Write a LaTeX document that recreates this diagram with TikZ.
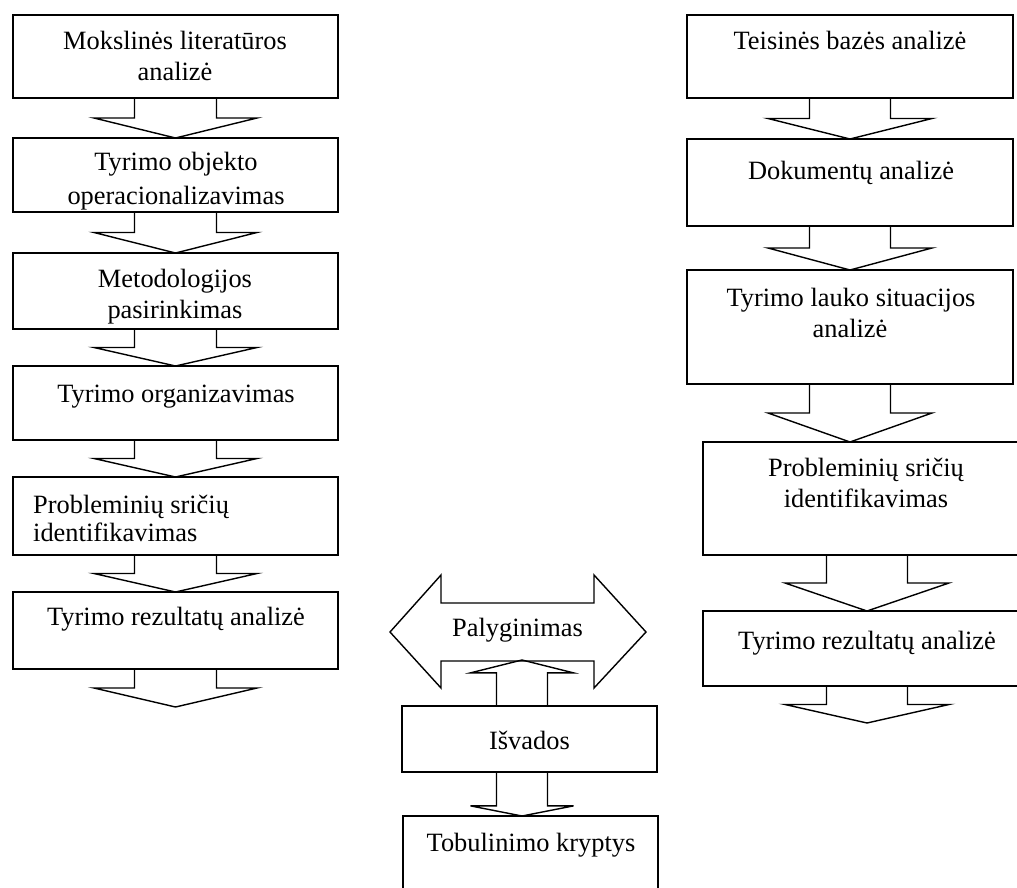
\documentclass[tikz,border=0pt]{standalone}
\usepackage{fontspec}
\setmainfont{Liberation Serif}
\usetikzlibrary{calc}

% A stage box given by its corners: name, x1, y1, x2, y2
\newcommand\stage[5]{%
  \node[stagebox, minimum width={(#4)-(#2)}, minimum height={(#5)-(#3)}]
    (#1) at ({((#2)+(#4))/2},{((#3)+(#5))/2}) {};}

% A block arrow: start point, tip point, stem half-width, head half-width,
% share of the length taken by the stem
\newcommand\flowarrow[5]{%
  \draw[conn] let \p1=(#1), \p2=(#2) in
    ({\x1-#3},\y1) -- ({\x1-#3},{\y1+(\y2-\y1)*#5}) -- ({\x1-#4},{\y1+(\y2-\y1)*#5})
    -- (\x1,\y2)
    -- ({\x1+#4},{\y1+(\y2-\y1)*#5}) -- ({\x1+#3},{\y1+(\y2-\y1)*#5}) -- ({\x1+#3},\y1);}

\begin{document}
\begin{tikzpicture}[x=1pt,y=-1pt,
  stagebox/.style={draw, line width=1.4pt, inner sep=0pt, outer sep=0pt},
  conn/.style={draw, line width=1.4pt, line join=miter},
  lbl/.style={inner sep=0pt, anchor=base, font=\fontsize{26.4}{29}\selectfont},
  lblw/.style={lbl, anchor=base west}]
\useasboundingbox (0,0) rectangle (1017,888);

% ---------- left column ----------
\stage{L1}{13}{15}{338}{98}
\stage{L2}{13}{138}{338}{212}
\stage{L3}{13}{253}{338}{329}
\stage{L4}{13}{366}{338}{440}
\stage{L5}{13}{477}{338}{555}
\stage{L6}{13}{592}{338}{669}
\coordinate (Lend) at (175.5,707);

\node[lbl] (L1a) at (175,50) {Mokslinės literatūros};
\node[lbl] (L1b) at (175,81) {analizė};
\node[lbl] (L2a) at (176,171) {Tyrimo objekto};
\node[lbl] (L2b) at (176,204) {operacionalizavimas};
\node[lbl] (L3a) at (175,287) {Metodologijos};
\node[lbl] (L3b) at (175,318) {pasirinkimas};
\node[lbl] (L4a) at (176,402) {Tyrimo organizavimas};
\node[lblw] (L5a) at (33,513) {Probleminių sričių};
\node[lblw] (L5b) at (33,541) {identifikavimas};
\node[lbl] (L6a) at (176,625) {Tyrimo rezultatų analizė};

\flowarrow{L1.south}{L1.south |- L2.north}{41}{81.5}{0.5}
\flowarrow{L2.south}{L2.south |- L3.north}{41}{81.5}{0.5}
\flowarrow{L3.south}{L3.south |- L4.north}{41}{81.5}{0.5}
\flowarrow{L4.south}{L4.south |- L5.north}{41}{81.5}{0.5}
\flowarrow{L5.south}{L5.south |- L6.north}{41}{81.5}{0.5}
\flowarrow{L6.south}{L6.south |- Lend}{41}{81.5}{0.5}

% ---------- right column ----------
\stage{R1}{687}{15}{1013}{98}
\stage{R2}{687}{139}{1013}{226}
\stage{R3}{687}{270}{1013}{384}
\stage{R4}{703}{442}{1031}{555}
\stage{R5}{703}{611}{1031}{686}
\coordinate (Rend) at (867,723);

\node[lbl] (R1a) at (850,50) {Teisinės bazės analizė};
\node[lbl] (R2a) at (851,179) {Dokumentų analizė};
\node[lbl] (R3a) at (851,306) {Tyrimo lauko situacijos};
\node[lbl] (R3b) at (850,337) {analizė};
\node[lbl] (R4a) at (866,476) {Probleminių sričių};
\node[lbl] (R4b) at (866,507) {identifikavimas};
\node[lbl] (R5a) at (867,649) {Tyrimo rezultatų analizė};

\flowarrow{R1.south}{R1.south |- R2.north}{40.5}{82}{0.5}
\flowarrow{R2.south}{R2.south |- R3.north}{40.5}{82}{0.5}
\flowarrow{R3.south}{R3.south |- R4.north}{40.5}{82}{0.5}
\flowarrow{R4.south}{R4.south |- R5.north}{40.5}{82}{0.5}
\flowarrow{R5.south}{R5.south |- Rend}{40.5}{82}{0.5}

% ---------- middle: comparison, conclusions, improvements ----------
\draw[conn] (390,632) -- (441,575) -- (441,603) -- (594,603) -- (594,575)
  -- (646,632) -- (594,688) -- (594,661) -- (441,661) -- (441,688) -- cycle;
\node[lbl] (cmp) at (517.5,636) {Palyginimas};
\coordinate (cmpBase) at (522,660);

\stage{isv}{402}{706}{657}{772}
\stage{tob}{403}{816}{658}{900}
\node[lbl] (isva) at (529.5,749) {Išvados};
\node[lbl] (toba) at (531,851) {Tobulinimo kryptys};

\coordinate (isvTop) at ($(isv.north)+(-7.5,0)$);
\coordinate (isvBot) at ($(isv.south)+(-7.5,0)$);
\flowarrow{isvTop}{isvTop |- cmpBase}{25.5}{51.5}{0.72}
\flowarrow{isvBot}{isvBot |- tob.north}{25.5}{51.5}{0.77}
\end{tikzpicture}
\end{document}
